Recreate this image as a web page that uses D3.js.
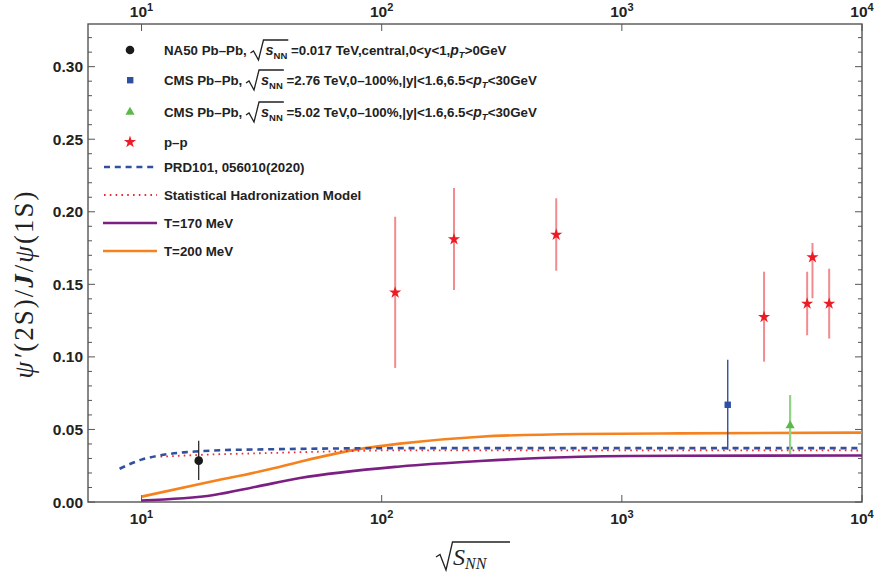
<!DOCTYPE html>
<html>
<head>
<meta charset="utf-8">
<script src="https://cdn.jsdelivr.net/npm/d3@7.9.0/dist/d3.min.js"></script>
<style>
  body { margin: 0; background: #fff; }
  text { font-family: "Liberation Sans", Arial, sans-serif; }
</style>
</head>
<body>
<svg id="chart" width="878" height="577"></svg>
<script>
// ---- data ----
const na50X = [17.3];
const na50Y = [0.0285];
const na50Lo = [0.0152];
const na50Hi = [0.0422];

const cms276X = [2760];
const cms276Y = [0.067];
const cms276Lo = [0.036];
const cms276Hi = [0.098];

const cms502X = [5020];
const cms502Y = [0.052];
const cms502Lo = [0.033];
const cms502Hi = [0.0737];

const ppX = [113.8, 200, 533, 3910, 5910, 6220, 7300];
const ppY = [0.1443, 0.181, 0.1842, 0.1275, 0.1367, 0.1686, 0.1367];
const ppLo = [0.0924, 0.1461, 0.1594, 0.0967, 0.1149, 0.1404, 0.1126];
const ppHi = [0.1966, 0.2164, 0.2093, 0.1587, 0.1587, 0.1785, 0.1608];

const prdX = [8.1, 10, 12, 15, 17.3, 20, 33, 50, 119, 300, 1000, 10000];
const prdY = [0.0229, 0.0292, 0.0322, 0.0342, 0.0349, 0.0355, 0.0363, 0.0367, 0.0371, 0.0371, 0.0371, 0.0371];

const shmX = [12, 17, 33, 60, 119, 1000, 10000];
const shmY = [0.0312, 0.0324, 0.0337, 0.0348, 0.0356, 0.0356, 0.0355];

const t170X = [10, 20, 30, 45.7, 119, 257, 672, 1745, 10000];
const t170Y = [0.001, 0.0048, 0.0105, 0.0165, 0.0245, 0.0283, 0.0312, 0.0319, 0.032];

const t200X = [10, 20, 33, 45.7, 74, 119, 257, 672, 1745, 10000];
const t200Y = [0.0037, 0.0145, 0.022, 0.0278, 0.0354, 0.0402, 0.045, 0.0469, 0.0473, 0.0478];

const xTickExp = [1, 2, 3, 4];
const yTicks = [0, 0.05, 0.10, 0.15, 0.20, 0.25, 0.30];

// ---- layout ----
const mLeft = 88, mRight = 862, mTop = 24, mBottom = 502;
const svg = d3.select('#chart');
const x = d3.scaleLog().domain([5.985, 10000]).range([mLeft, mRight]);
const y = d3.scaleLinear().domain([0, 0.3294]).range([mBottom, mTop]);
const axisColor = '#555';

// frame
svg.append('rect')
  .attr('x', mLeft).attr('y', mTop)
  .attr('width', mRight - mLeft).attr('height', mBottom - mTop)
  .attr('fill', 'none').attr('stroke', axisColor).attr('stroke-width', 1.4);

// y ticks (left and right, inward)
const minorY = d3.range(0, 0.325, 0.01);
minorY.forEach(v => {
  const major = Math.abs(Math.round(v * 100) % 5) === 0;
  const len = major ? 7 : 4;
  svg.append('line').attr('x1', mLeft).attr('x2', mLeft + len)
    .attr('y1', y(v)).attr('y2', y(v)).attr('stroke', axisColor).attr('stroke-width', 1);
  svg.append('line').attr('x1', mRight).attr('x2', mRight - len)
    .attr('y1', y(v)).attr('y2', y(v)).attr('stroke', axisColor).attr('stroke-width', 1);
});
yTicks.forEach(v => {
  svg.append('text').attr('x', 83).attr('y', y(v) + 5.5)
    .attr('text-anchor', 'end').attr('font-size', 15.5).attr('font-weight', 'bold')
    .attr('fill', '#222').text(v.toFixed(2));
});

// x ticks (top and bottom, inward)
xTickExp.forEach(e => {
  const px = x(Math.pow(10, e));
  svg.append('line').attr('x1', px).attr('x2', px).attr('y1', mBottom).attr('y2', mBottom - 7)
    .attr('stroke', axisColor).attr('stroke-width', 1);
  svg.append('line').attr('x1', px).attr('x2', px).attr('y1', mTop).attr('y2', mTop + 7)
    .attr('stroke', axisColor).attr('stroke-width', 1);
  [16.5, 524].forEach(by => {
    const t = svg.append('text').attr('x', px).attr('y', by)
      .attr('text-anchor', 'middle').attr('font-size', 15.5).attr('font-weight', 'bold').attr('fill', '#222');
    t.append('tspan').text('10');
    t.append('tspan').attr('font-size', 11).attr('dy', -6).text(e);
  });
});

// ---- curves ----
const lineGen = d3.line().x(d => x(d[0])).y(d => y(d[1])).curve(d3.curveMonotoneX);
const zip = (a, b) => a.map((v, i) => [v, b[i]]);

svg.append('path').attr('d', lineGen(zip(t170X, t170Y)))
  .attr('fill', 'none').attr('stroke', '#7b1f82').attr('stroke-width', 2.6);
svg.append('path').attr('d', lineGen(zip(t200X, t200Y)))
  .attr('fill', 'none').attr('stroke', '#f5821f').attr('stroke-width', 2.6);
svg.append('path').attr('d', lineGen(zip(shmX, shmY)))
  .attr('fill', 'none').attr('stroke', '#ee2a2f').attr('stroke-width', 1.8)
  .attr('stroke-dasharray', '1.6,4.2');
svg.append('path').attr('d', lineGen(zip(prdX, prdY)))
  .attr('fill', 'none').attr('stroke', '#3050a0').attr('stroke-width', 2.6)
  .attr('stroke-dasharray', '6,4.8');

// ---- points with error bars ----
function errBars(xs, lo, hi, color, w) {
  xs.forEach((v, i) => {
    svg.append('line').attr('x1', x(v)).attr('x2', x(v))
      .attr('y1', y(lo[i])).attr('y2', y(hi[i]))
      .attr('stroke', color).attr('stroke-width', w);
  });
}
errBars(ppX, ppLo, ppHi, '#f28b8f', 2);
errBars(na50X, na50Lo, na50Hi, '#1a1a1a', 1.2);
errBars(cms276X, cms276Lo, cms276Hi, '#3050a0', 1.4);
errBars(cms502X, cms502Lo, cms502Hi, '#92d486', 2.2);

const star = d3.symbol().type(d3.symbolStar).size(46);
const tri = d3.symbol().type(d3.symbolTriangle).size(36);

ppX.forEach((v, i) => {
  svg.append('path').attr('d', star()).attr('transform', `translate(${x(v)},${y(ppY[i])})`)
    .attr('fill', '#ec1c24');
});
na50X.forEach((v, i) => {
  svg.append('circle').attr('cx', x(v)).attr('cy', y(na50Y[i])).attr('r', 4.3).attr('fill', '#1a1a1a');
});
cms276X.forEach((v, i) => {
  svg.append('rect').attr('x', x(v) - 3.2).attr('y', y(cms276Y[i]) - 3.2)
    .attr('width', 6.4).attr('height', 6.4).attr('fill', '#2f4fa3');
});
cms502X.forEach((v, i) => {
  svg.append('path').attr('d', tri()).attr('transform', `translate(${x(v)},${y(cms502Y[i]) - 1})`)
    .attr('fill', '#5cb848');
});

// ---- legend ----
const legX = 164, legFont = 13.3;
const legend = svg.append('g');

function sqrtRow(yy, rest) {
  const t = legend.append('text').attr('x', legX).attr('y', yy + 5)
    .attr('font-size', legFont).attr('font-weight', 'bold').attr('fill', '#222');
  t.append('tspan').text(rest[0]);
  t.append('tspan').attr('dx', 15).attr('font-style', 'italic').attr('font-size', 14.5).text('s');
  t.append('tspan').attr('font-size', 9.5).attr('dy', 3.5).text('NN');
  t.append('tspan').attr('dy', -3.5).text(' ' + rest[1]);
  t.append('tspan').attr('font-style', 'italic').attr('font-size', 14).text('p');
  t.append('tspan').attr('font-style', 'italic').attr('font-size', 9.5).attr('dy', 3).text('T');
  t.append('tspan').attr('dy', -3).text(rest[2]);
  // radical sign over s_NN
  const n0 = rest[0].length;
  const sx = t.node().getStartPositionOfChar(n0).x;
  const ex = t.node().getEndPositionOfChar(n0 + 2).x;
  const r0 = sx - 15;
  legend.append('path')
    .attr('d', `M${r0},${yy + 3} L${r0 + 3},${yy + 1} L${r0 + 8},${yy + 10} L${r0 + 13},${yy - 10} L${ex + 1},${yy - 10}`)
    .attr('fill', 'none').attr('stroke', '#222').attr('stroke-width', 1.3);
}

const rows = [50, 80, 112, 142, 167, 195, 223, 251];
legend.append('circle').attr('cx', 130).attr('cy', rows[0]).attr('r', 4.3).attr('fill', '#1a1a1a');
legend.append('rect').attr('x', 127).attr('y', rows[1] - 3).attr('width', 6.4).attr('height', 6.4).attr('fill', '#2f4fa3');
legend.append('path').attr('d', tri()).attr('transform', `translate(130,${rows[2]})`).attr('fill', '#5cb848');
legend.append('path').attr('d', star()).attr('transform', `translate(130,${rows[3]})`).attr('fill', '#ec1c24');
legend.append('line').attr('x1', 104).attr('x2', 157).attr('y1', rows[4]).attr('y2', rows[4])
  .attr('stroke', '#3050a0').attr('stroke-width', 2.6).attr('stroke-dasharray', '6,4.8');
legend.append('line').attr('x1', 104).attr('x2', 157).attr('y1', rows[5]).attr('y2', rows[5])
  .attr('stroke', '#ee2a2f').attr('stroke-width', 1.8).attr('stroke-dasharray', '1.6,4.2');
legend.append('line').attr('x1', 103).attr('x2', 157).attr('y1', rows[6]).attr('y2', rows[6])
  .attr('stroke', '#7b1f82').attr('stroke-width', 2.6);
legend.append('line').attr('x1', 103).attr('x2', 157).attr('y1', rows[7]).attr('y2', rows[7])
  .attr('stroke', '#f5821f').attr('stroke-width', 2.6);

sqrtRow(rows[0], ['NA50 Pb\u2013Pb, ', '=0.017 TeV,central,0<y<1,', '>0GeV']);
sqrtRow(rows[1], ['CMS Pb\u2013Pb, ', '=2.76 TeV,0\u2013100%,|y|<1.6,6.5<', '<30GeV']);
sqrtRow(rows[2], ['CMS Pb\u2013Pb, ', '=5.02 TeV,0\u2013100%,|y|<1.6,6.5<', '<30GeV']);
['p\u2013p', 'PRD101, 056010(2020)', 'Statistical Hadronization Model', 'T=170 MeV', 'T=200 MeV']
  .forEach((s, i) => {
    legend.append('text').attr('x', legX).attr('y', rows[i + 3] + 5)
      .attr('font-size', legFont).attr('font-weight', 'bold').attr('fill', '#222').text(s);
  });

// ---- axis titles ----
const ylab = svg.append('text')
  .attr('transform', 'translate(33,284) rotate(-90)')
  .attr('text-anchor', 'middle')
  .attr('font-size', 27).attr('fill', '#222')
  .attr('letter-spacing', 2)
  .style('font-family', '"Liberation Serif", "Times New Roman", serif');
ylab.append('tspan').attr('font-style', 'italic').text('\u03C8\u2032');
ylab.append('tspan').text('(2S)/');
ylab.append('tspan').attr('font-style', 'italic').attr('font-weight', 'bold').text('J');
ylab.append('tspan').text('/');
ylab.append('tspan').attr('font-style', 'italic').text('\u03C8');
ylab.append('tspan').text('(1S)');

// sqrt(S_NN)
svg.append('path')
  .attr('d', 'M436,557 L440,554.5 L446,570 L452.5,542 L510,542')
  .attr('fill', 'none').attr('stroke', '#222').attr('stroke-width', 1.3);
const xl = svg.append('text').attr('x', 453).attr('y', 565).attr('fill', '#222')
  .style('font-family', '"Liberation Serif", "Times New Roman", serif').attr('font-style', 'italic');
xl.append('tspan').attr('font-size', 24).text('S');
xl.append('tspan').attr('font-size', 16).attr('dy', 4).text('NN');
</script>
</body>
</html>
